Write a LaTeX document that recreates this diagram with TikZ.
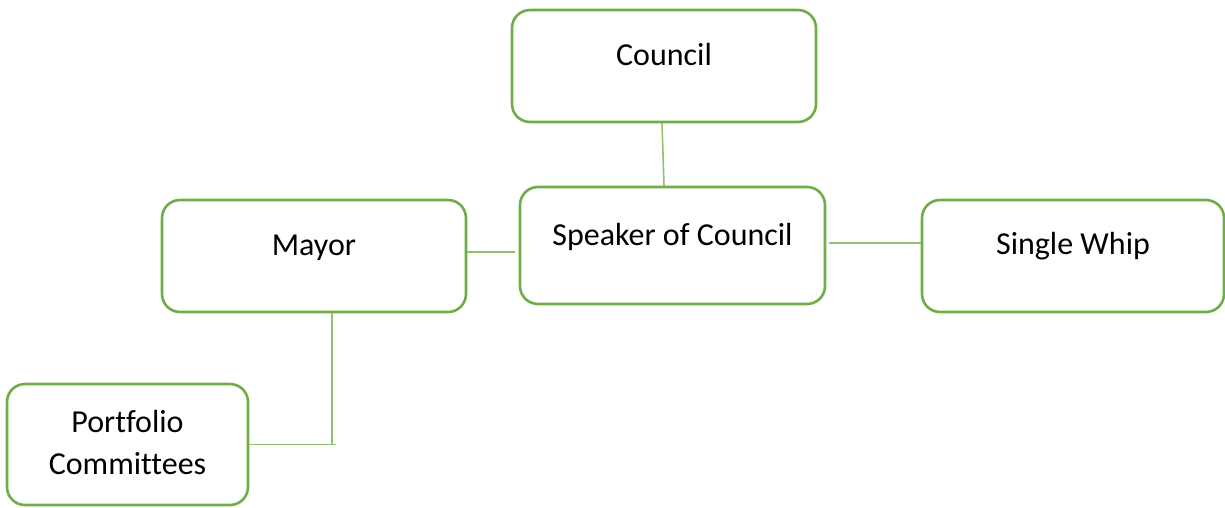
\documentclass[tikz,border=0pt]{standalone}
\usepackage{fontspec}
\setmainfont{Carlito}[Ligatures=NoCommon]
\definecolor{boxgreen}{HTML}{70AD47}
\definecolor{linkgreen}{RGB}{141,195,107}
\begin{document}
\begin{tikzpicture}[x=1pt,y=-1pt,
  box/.style={draw=boxgreen, line width=2.6pt, rounded corners=18pt, fill=white, inner sep=0pt},
  lbl/.style={anchor=base, inner sep=0pt, font=\fontsize{32}{42}\selectfont, text=black},
  link/.style={draw=linkgreen, line width=1.6pt}]
\useasboundingbox (0,0) rectangle (1225,507);
% boxes
\node[box, minimum width=304pt, minimum height=112pt] (council) at (664,66) {};
\node[box, minimum width=305pt, minimum height=117pt] (speaker) at (672.5,245.5) {};
\node[box, minimum width=304pt, minimum height=112pt] (mayor) at (314,256) {};
\node[box, minimum width=302pt, minimum height=112pt] (whip) at (1073,256) {};
\node[box, minimum width=241pt, minimum height=121pt] (portfolio) at (127.5,444.5) {};
% labels
\node[lbl] (councilT) at ([yshift=-57pt]council.north) {Council};
\node[lbl] (speakerT) at ([yshift=-60pt]speaker.north) {Speaker of Council};
\node[lbl] (mayorT) at ([yshift=-57pt]mayor.north) {Mayor};
\node[lbl] (whipT) at ([yshift=-56pt]whip.north) {Single Whip};
\node[lbl] (portT1) at ([yshift=-50pt]portfolio.north) {Portfolio};
\node[lbl] (portT2) at ([yshift=-92pt]portfolio.north) {Committees};
% connectors
\draw[link] ([xshift=-2pt]council.south) -- ([xshift=-8.5pt]speaker.north);
\coordinate (m1) at ([yshift=4pt]mayor.east);
\coordinate (sw) at ([xshift=-4pt]speaker.west);
\draw[link] (m1) -- (m1 -| sw);
\coordinate (w1) at ([yshift=13pt]whip.west);
\coordinate (se) at ([xshift=3pt]speaker.east);
\draw[link] (se |- w1) -- (w1);
\coordinate (ms) at ([xshift=18pt]mayor.south);
\coordinate (pe) at (portfolio.east);
\coordinate (pend) at ([xshift=4pt]ms |- pe);
\draw[link] (ms) -- (ms |- pe);
\draw[link] (pe) -- (pend);
\end{tikzpicture}
\end{document}
